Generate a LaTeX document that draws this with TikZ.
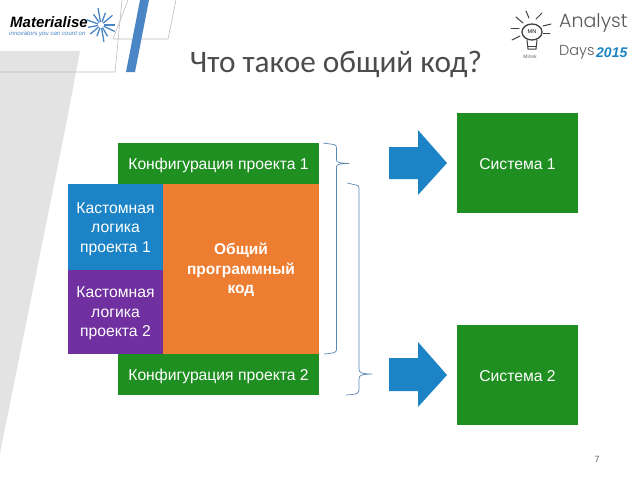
\documentclass[tikz,border=0pt]{standalone}
\usepackage{fontspec}
\setmainfont{Liberation Sans}
\newfontfamily\titlefont{Carlito}
\newfontfamily\handfont{Poppins Light}
\definecolor{cgreen}{HTML}{1F8F22}
\definecolor{cblue}{HTML}{1C84C6}
\definecolor{cpurple}{HTML}{7030A0}
\definecolor{corange}{HTML}{ED7D31}
\definecolor{cbrace}{HTML}{5B87B5}
\definecolor{cbar}{HTML}{4A86C5}
\definecolor{cgrey}{HTML}{E3E3E3}
\definecolor{cline}{HTML}{BDBDBD}
\tikzset{
  blockbox/.style={anchor=center,inner sep=0pt,outer sep=0pt,align=center,text=white,font=\fontsize{15.7}{19.5}\selectfont},
  bracepath/.style={draw=cbrace,line width=0.7pt,line join=round},
  bigarrow/.style={fill=cblue},
  frameline/.style={draw=cline,line width=0.6pt},
  raysty/.style={draw=black!75,line width=1pt,line cap=round},
  burst/.style={draw=cbar,line width=1.3pt}
}
\begin{document}
\begin{tikzpicture}[x=1pt,y=-1pt]
\useasboundingbox (0,0) rectangle (638,479);
\fill[white] (0,0) rectangle (638,479);
% background
\fill[cgrey] (0,51) -- (80,51) -- (65,130) -- (0,453) -- cycle;
\draw[frameline] (122,0) -- (115,72) -- (0,72);
\draw[frameline] (128,0) -- (113,39) -- (168,39) -- (176,0);
\fill[cbar] (140,0) -- (149,0) -- (135,72) -- (126,72) -- cycle;
% logo
\node[anchor=west,inner sep=0pt,font=\bfseries\itshape\fontsize{15}{16}\selectfont] (logoname) at (10,22.5) {Materialise};
\node[anchor=west,inner sep=0pt,text=cbar,font=\itshape\fontsize{6.1}{7}\selectfont] (logotag) at (9,33.5) {innovators you can count on};
\foreach \a/\r in {0/11,25/12,60/10,80/14,110/9,140/11,170/10,200/12,235/10,260/14,290/10,320/12}
  \draw[burst] (101,25)++(\a:3) -- ++(\a:\r);
% analyst days logo
\draw[raysty,line width=1.3pt] (532,32) ellipse (10 and 8);
\draw[raysty] (527,40) -- (528,49) -- (536,49) -- (537,40);
\draw[raysty] (528,46) -- (536,46);
\node[inner sep=0pt,font=\fontsize{5.5}{6}\selectfont] (bulbtext) at (532,32) {MN};
\node[inner sep=0pt,text=black!60,font=\fontsize{5}{6}\selectfont] (minsk) at (530,57) {Minsk};
\foreach \ax/\ay/\bx/\by in {526/11/529/18, 536/19/542/13, 516/17/523/23, 511/28/519/28, 512/40/520/36, 543/26/551/24, 543/33/550/33}
  \draw[raysty] (\ax,\ay) -- (\bx,\by);
\node[anchor=west,inner sep=0pt,text=black!65,font=\handfont\fontsize{19}{22}\selectfont] (analyst) at (559,23) {Analyst};
\node[anchor=west,inner sep=0pt,text=black!65,font=\handfont\fontsize{14.5}{18}\selectfont] (days) at (559,52) {Days};
\node[anchor=west,inner sep=0pt,text=cblue,font=\bfseries\itshape\fontsize{14}{16}\selectfont] (year) at (596,53) {2015};
% title
\node[anchor=base,inner sep=0pt,text=black!70,font=\titlefont\fontsize{31.3}{34}\selectfont] (title) at (336,72) {Что такое общий код?};
% blocks
\fill[cgreen] (118,143) rectangle (319,184);
\node[blockbox] (conf1) at (218.5,165) {Конфигурация проекта 1};
\fill[corange] (163,184) rectangle (319,354);
\node[blockbox,font=\bfseries\fontsize{15.5}{19.5}\selectfont] (common) at (241,270) {Общий\\программный\\код};
\fill[cblue] (68,184) rectangle (163,270);
\node[blockbox] (logic1) at (115.5,229) {Кастомная\\логика\\проекта 1};
\fill[cpurple] (68,270) rectangle (163,354);
\node[blockbox] (logic2) at (115.5,313.5) {Кастомная\\логика\\проекта 2};
\fill[cgreen] (118,354) rectangle (319,395);
\node[blockbox] (conf2) at (218.5,376) {Конфигурация проекта 2};
\fill[cgreen] (457,113) rectangle (578,213);
\node[blockbox] (sys1) at (517.5,164) {Система 1};
\fill[cgreen] (457,325) rectangle (578,425);
\node[blockbox] (sys2) at (517.5,376) {Система 2};
% arrows
\fill[bigarrow] (389,147) -- (418,147) -- (418,130) -- (447,163) -- (418,195) -- (418,179) -- (389,179) -- cycle;
\fill[bigarrow] (389,358) -- (418,358) -- (418,342) -- (447,375) -- (418,407) -- (418,391) -- (389,391) -- cycle;
% braces
\draw[bracepath] (323,143) -- (334,144.5) .. controls (336,145) and (336.5,146) .. (336.5,148) -- (336.5,160) .. controls (336.5,162) and (338,163) .. (349,163.5) .. controls (338,163.5) and (336.5,165) .. (336.5,167) -- (336.5,349) .. controls (336.5,352) and (336,353) .. (324,354);
\draw[bracepath] (347,183) -- (356,185) .. controls (358.5,185.5) and (359,186) .. (359,189) -- (359,369) .. controls (359,372.5) and (361,374) .. (372,374) .. controls (361,374.5) and (359,375) .. (359,379) -- (359,389) .. controls (359,393) and (358,394.5) .. (346,395);
% page number
\node[inner sep=0pt,text=black!60,font=\fontsize{9}{10}\selectfont] (pagenum) at (597,459) {7};
\end{tikzpicture}
\end{document}
